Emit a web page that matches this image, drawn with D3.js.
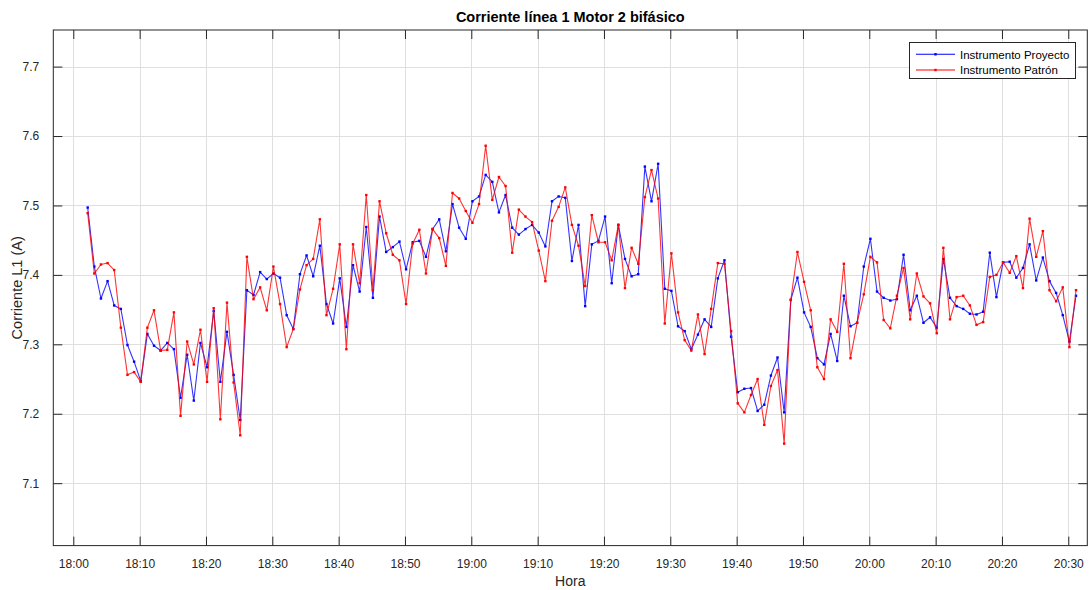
<!DOCTYPE html>
<html>
<head>
<meta charset="utf-8">
<script src="https://cdn.jsdelivr.net/npm/d3@7"></script>
<style>
  html, body { margin: 0; padding: 0; background: #ffffff; }
  svg { display: block; font-family: "Liberation Sans", Arial, Helvetica, sans-serif; }
</style>
</head>
<body>
<svg id="chart" width="1089" height="590"></svg>
<script>
// Samples are taken once per minute, starting at 18:02:10
const startTime = "18:02:10";
const sampleCount = 150;

// Corriente L1 (A) – Instrumento Proyecto
const proyecto = [
  7.497, 7.412, 7.366, 7.391, 7.356, 7.351, 7.299, 7.275, 7.247, 7.315,
  7.298, 7.291, 7.302, 7.293, 7.223, 7.285, 7.219, 7.302, 7.267, 7.348,
  7.246, 7.318, 7.256, 7.191, 7.378, 7.371, 7.404, 7.394, 7.402, 7.396,
  7.342, 7.322, 7.401, 7.428, 7.398, 7.442, 7.358, 7.330, 7.395, 7.325,
  7.414, 7.376, 7.469, 7.367, 7.484, 7.433, 7.440, 7.448, 7.408, 7.447,
  7.449, 7.426, 7.466, 7.480, 7.434, 7.502, 7.468, 7.452, 7.506, 7.513,
  7.544, 7.534, 7.490, 7.515, 7.468, 7.458, 7.466, 7.472, 7.461, 7.441,
  7.506, 7.513, 7.511, 7.420, 7.472, 7.355, 7.444, 7.449, 7.484, 7.388,
  7.472, 7.423, 7.398, 7.401, 7.556, 7.506, 7.560, 7.380, 7.377, 7.326,
  7.319, 7.293, 7.314, 7.336, 7.325, 7.395, 7.421, 7.311, 7.231, 7.236,
  7.237, 7.204, 7.213, 7.255, 7.281, 7.202, 7.364, 7.396, 7.346, 7.325,
  7.280, 7.271, 7.315, 7.276, 7.370, 7.326, 7.331, 7.412, 7.452, 7.376,
  7.367, 7.363, 7.365, 7.429, 7.349, 7.370, 7.331, 7.339, 7.324, 7.423,
  7.367, 7.355, 7.351, 7.344, 7.343, 7.347, 7.432, 7.368, 7.418, 7.419,
  7.396, 7.410, 7.444, 7.392, 7.425, 7.391, 7.374, 7.342, 7.304, 7.370
];

// Corriente L1 (A) – Instrumento Patrón
const patron = [
  7.489, 7.402, 7.415, 7.417, 7.407, 7.324, 7.256, 7.260, 7.246, 7.324,
  7.349, 7.291, 7.292, 7.346, 7.197, 7.304, 7.271, 7.321, 7.246, 7.352,
  7.192, 7.360, 7.245, 7.169, 7.426, 7.365, 7.382, 7.349, 7.412, 7.358,
  7.296, 7.322, 7.379, 7.414, 7.423, 7.480, 7.342, 7.380, 7.444, 7.293,
  7.444, 7.388, 7.515, 7.378, 7.506, 7.460, 7.429, 7.421, 7.358, 7.445,
  7.465, 7.402, 7.466, 7.453, 7.413, 7.518, 7.510, 7.492, 7.475, 7.502,
  7.586, 7.508, 7.541, 7.528, 7.432, 7.494, 7.484, 7.476, 7.435, 7.391,
  7.478, 7.498, 7.526, 7.472, 7.442, 7.384, 7.486, 7.447, 7.447, 7.421,
  7.472, 7.381, 7.439, 7.416, 7.512, 7.551, 7.510, 7.330, 7.431, 7.346,
  7.306, 7.291, 7.343, 7.286, 7.351, 7.417, 7.416, 7.319, 7.215, 7.202,
  7.227, 7.250, 7.184, 7.240, 7.263, 7.157, 7.364, 7.433, 7.390, 7.349,
  7.267, 7.250, 7.336, 7.318, 7.416, 7.280, 7.331, 7.372, 7.426, 7.418,
  7.335, 7.323, 7.370, 7.410, 7.336, 7.402, 7.369, 7.359, 7.316, 7.439,
  7.336, 7.368, 7.370, 7.356, 7.328, 7.332, 7.397, 7.400, 7.418, 7.403,
  7.427, 7.381, 7.481, 7.426, 7.463, 7.378, 7.362, 7.382, 7.296, 7.378
];

const xTickLabels = ["18:00", "18:10", "18:20", "18:30", "18:40", "18:50", "19:00", "19:10",
                     "19:20", "19:30", "19:40", "19:50", "20:00", "20:10", "20:20", "20:30"];
const yTickValues = [7.1, 7.2, 7.3, 7.4, 7.5, 7.6, 7.7];
const xLimits = ["17:56:59", "20:32:52"];
const yLimits = [7.0101, 7.7527];

const seriesNames = ["Instrumento Proyecto", "Instrumento Patrón"];
const seriesColors = ["#0000ff", "#ff0000"];

const titleText = "Corriente línea 1 Motor 2 bifásico";
const xLabelText = "Hora";
const yLabelText = "Corriente L1 (A)";

// ---------------------------------------------------------------
const parseT = d3.timeParse("%H:%M:%S");
const parseHM = d3.timeParse("%H:%M");
const t0 = parseT(startTime);
const times = d3.range(sampleCount).map(i => d3.timeMinute.offset(t0, i));

const svg = d3.select("#chart");
const W = 1089, H = 590;
const plot = { left: 53.3, right: 1087.3, top: 30, bottom: 545.6 };
const axisColor = "#262626";

const x = d3.scaleTime()
  .domain(xLimits.map(parseT))
  .range([plot.left, plot.right]);
const y = d3.scaleLinear()
  .domain(yLimits)
  .range([plot.bottom, plot.top]);

svg.append("rect").attr("width", W).attr("height", H).attr("fill", "#ffffff");

const xTicks = xTickLabels.map(parseHM);

// grid
const grid = svg.append("g").attr("stroke", "#dfdfdf").attr("stroke-width", 1);
grid.selectAll("line.gx").data(xTicks).join("line")
  .attr("class", "gx")
  .attr("x1", d => Math.round(x(d)) + 0.5).attr("x2", d => Math.round(x(d)) + 0.5)
  .attr("y1", plot.top).attr("y2", plot.bottom);
grid.selectAll("line.gy").data(yTickValues).join("line")
  .attr("class", "gy")
  .attr("y1", d => Math.round(y(d)) + 0.5).attr("y2", d => Math.round(y(d)) + 0.5)
  .attr("x1", plot.left).attr("x2", plot.right);

// axes (ticks point inward, mirrored on the opposite side)
const tickLen = 9;
const fmt = d3.timeFormat("%H:%M");
const xAxisBottom = d3.axisBottom(x).tickValues(xTicks).tickFormat(fmt)
  .tickSizeInner(-tickLen).tickSizeOuter(0).tickPadding(tickLen + 5);
const xAxisTop = d3.axisTop(x).tickValues(xTicks).tickFormat("")
  .tickSizeInner(-tickLen).tickSizeOuter(0);
const yAxisLeft = d3.axisLeft(y).tickValues(yTickValues).tickFormat(d3.format(".1f"))
  .tickSizeInner(-tickLen).tickSizeOuter(0).tickPadding(tickLen + 5);
const yAxisRight = d3.axisRight(y).tickValues(yTickValues).tickFormat("")
  .tickSizeInner(-tickLen).tickSizeOuter(0);

function styleAxis(g) {
  g.select(".domain").remove();
  g.selectAll(".tick line").attr("stroke", axisColor).attr("stroke-width", 1);
  g.selectAll(".tick text").attr("fill", axisColor).attr("font-size", 12)
    .attr("font-family", "'Liberation Sans', Arial, Helvetica, sans-serif");
}

svg.append("g").attr("transform", `translate(0,${plot.bottom})`).call(xAxisBottom).call(styleAxis);
svg.append("g").attr("transform", `translate(0,${plot.top})`).call(xAxisTop).call(styleAxis);
svg.append("g").attr("transform", `translate(${plot.left},0)`).call(yAxisLeft).call(styleAxis);
svg.append("g").attr("transform", `translate(${plot.right},0)`).call(yAxisRight).call(styleAxis);

// plot box
svg.append("rect")
  .attr("x", plot.left).attr("y", plot.top)
  .attr("width", plot.right - plot.left).attr("height", plot.bottom - plot.top)
  .attr("fill", "none").attr("stroke", axisColor).attr("stroke-width", 1);

// series
const seriesData = [proyecto, patron];
const line = d3.line().x(d => x(d.t)).y(d => y(d.v));
seriesData.forEach((vals, s) => {
  const pts = vals.map((v, i) => ({ t: times[i], v }));
  const g = svg.append("g");
  g.append("path").datum(pts)
    .attr("d", line).attr("fill", "none")
    .attr("stroke", seriesColors[s]).attr("stroke-width", 1.1)
    .attr("stroke-opacity", 0.8).attr("stroke-linejoin", "round");
  g.selectAll("rect").data(pts).join("rect")
    .attr("x", d => x(d.t) - 1.2).attr("y", d => y(d.v) - 1.2)
    .attr("width", 2.4).attr("height", 2.4)
    .attr("fill", seriesColors[s]);
});

// title and axis labels
svg.append("text")
  .attr("x", (plot.left + plot.right) / 2).attr("y", 22)
  .attr("text-anchor", "middle").attr("font-weight", "bold").attr("font-size", 14.5)
  .attr("fill", "#000").text(titleText);
svg.append("text")
  .attr("x", (plot.left + plot.right) / 2).attr("y", 586)
  .attr("text-anchor", "middle").attr("font-size", 14).attr("fill", axisColor)
  .text(xLabelText);
svg.append("text")
  .attr("transform", `translate(22,${(plot.top + plot.bottom) / 2}) rotate(-90)`)
  .attr("text-anchor", "middle").attr("font-size", 14.5).attr("fill", axisColor)
  .text(yLabelText);

// legend
const lg = svg.append("g").attr("transform", "translate(909.5,42.5)");
lg.append("rect").attr("width", 166).attr("height", 36)
  .attr("fill", "#ffffff").attr("stroke", axisColor).attr("stroke-width", 1);
seriesNames.forEach((name, i) => {
  const cy = 11.8 + i * 15.7;
  lg.append("line").attr("x1", 6.5).attr("x2", 45.5).attr("y1", cy).attr("y2", cy)
    .attr("stroke", seriesColors[i]).attr("stroke-width", 1.1);
  lg.append("rect").attr("x", 26 - 1.2).attr("y", cy - 1.2).attr("width", 2.4).attr("height", 2.4)
    .attr("fill", seriesColors[i]);
  lg.append("text").attr("x", 50.5).attr("y", cy + 4.2)
    .attr("font-size", 11.5).attr("fill", "#000").text(name);
});
</script>
</body>
</html>
